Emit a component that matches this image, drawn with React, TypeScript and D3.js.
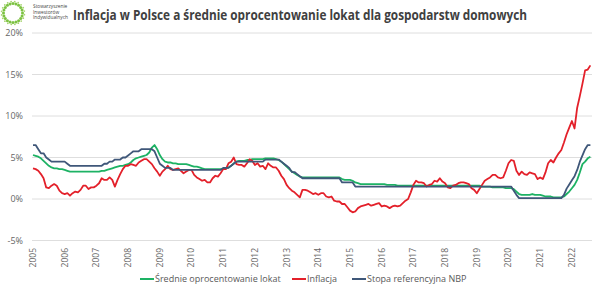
import React from 'react';
import * as d3 from 'd3';

// monthly values, Jan 2005 .. Aug 2022
const deposits: number[] = [
  5.3, 5.2, 5.1, 4.9, 4.6, 4.3, 4.0, 3.8, 3.7, 3.7, 3.6, 3.6,
  3.5, 3.4, 3.3, 3.3, 3.3, 3.3, 3.3, 3.3, 3.3, 3.3, 3.3, 3.3,
  3.3, 3.3, 3.4, 3.4, 3.5, 3.6, 3.7, 3.8, 3.9, 4.0, 4.0, 4.1,
  4.2, 4.4, 4.7, 4.9, 5.0, 5.1, 5.2, 5.3, 5.6, 6.2, 6.5, 6.0,
  5.3, 4.8, 4.5, 4.4, 4.4, 4.3, 4.3, 4.2, 4.2, 4.2, 4.2, 4.1,
  4.0, 3.9, 3.9, 3.8, 3.7, 3.6, 3.6, 3.6, 3.6, 3.6, 3.6, 3.6,
  3.6, 3.7, 3.8, 4.0, 4.3, 4.5, 4.6, 4.6, 4.6, 4.7, 4.7, 4.8,
  4.8, 4.8, 4.8, 4.8, 4.9, 4.9, 4.9, 4.9, 4.8, 4.7, 4.5, 4.2,
  3.9, 3.6, 3.3, 3.1, 2.9, 2.7, 2.6, 2.6, 2.6, 2.6, 2.6, 2.6,
  2.6, 2.6, 2.6, 2.6, 2.6, 2.6, 2.6, 2.6, 2.6, 2.4, 2.3, 2.3,
  2.3, 2.2, 2.0, 1.9, 1.8, 1.8, 1.8, 1.8, 1.8, 1.8, 1.8, 1.8,
  1.8, 1.8, 1.7, 1.7, 1.7, 1.7, 1.6, 1.6, 1.6, 1.6, 1.6, 1.6,
  1.6, 1.6, 1.6, 1.6, 1.6, 1.6, 1.6, 1.6, 1.6, 1.6, 1.6, 1.6,
  1.6, 1.6, 1.6, 1.6, 1.6, 1.6, 1.6, 1.6, 1.6, 1.6, 1.6, 1.6,
  1.6, 1.6, 1.5, 1.5, 1.5, 1.5, 1.4, 1.4, 1.4, 1.4, 1.4, 1.3,
  1.3, 1.3, 1.2, 0.9, 0.6, 0.5, 0.5, 0.5, 0.5, 0.6, 0.5, 0.5,
  0.5, 0.4, 0.3, 0.3, 0.3, 0.2, 0.2, 0.2, 0.2, 0.3, 0.6, 0.9,
  1.3, 1.7, 2.3, 3.2, 4.2, 4.5, 4.9, 5.1,
];

const inflation: number[] = [
  3.7, 3.6, 3.4, 3.0, 2.5, 1.4, 1.3, 1.6, 1.8, 1.6, 1.0, 0.7,
  0.6, 0.7, 0.4, 0.7, 0.9, 0.8, 1.1, 1.6, 1.6, 1.2, 1.4, 1.4,
  1.6, 1.9, 2.5, 2.3, 2.3, 2.6, 2.3, 1.5, 2.3, 3.0, 3.6, 4.0,
  4.0, 4.2, 4.1, 4.0, 4.4, 4.6, 4.8, 4.8, 4.5, 4.2, 3.7, 3.3,
  2.8, 3.3, 3.6, 4.0, 3.6, 3.5, 3.6, 3.7, 3.4, 3.1, 3.3, 3.5,
  3.5, 2.9, 2.6, 2.4, 2.2, 2.3, 2.0, 2.0, 2.5, 2.8, 2.7, 3.1,
  3.6, 3.6, 4.3, 4.5, 5.0, 4.2, 4.1, 4.1, 3.9, 4.3, 4.8, 4.6,
  4.1, 4.3, 3.9, 4.0, 3.6, 4.3, 4.0, 3.8, 3.8, 3.4, 2.8, 2.4,
  1.7, 1.3, 1.0, 0.8, 0.5, 0.2, 1.1, 1.1, 1.0, 0.8, 0.6, 0.7,
  0.5, 0.7, 0.7, 0.3, 0.2, 0.3, -0.2, -0.3, -0.3, -0.6, -0.6, -1.0,
  -1.4, -1.6, -1.5, -1.1, -0.9, -0.8, -0.7, -0.6, -0.8, -0.7, -0.6, -0.5,
  -0.9, -0.8, -0.9, -1.1, -0.9, -0.8, -0.9, -0.8, -0.5, -0.2, 0.0, 0.8,
  1.7, 2.2, 2.0, 2.0, 1.9, 1.5, 1.7, 1.8, 2.2, 2.1, 2.5, 2.1,
  1.9, 1.4, 1.3, 1.6, 1.7, 1.9, 2.0, 2.0, 1.9, 1.8, 1.3, 1.1,
  0.7, 1.2, 1.7, 2.2, 2.4, 2.6, 2.9, 2.9, 2.6, 2.5, 2.6, 3.4,
  4.3, 4.7, 4.6, 3.4, 2.9, 3.3, 3.0, 2.9, 3.2, 3.1, 3.0, 2.4,
  2.6, 2.4, 3.2, 4.3, 4.7, 4.4, 5.0, 5.5, 5.9, 6.8, 7.8, 8.6,
  9.4, 8.5, 11.0, 12.4, 13.9, 15.5, 15.6, 16.1,
];

const nbpRate: number[] = [
  6.5, 6.5, 6.0, 5.5, 5.5, 5.0, 4.75, 4.5, 4.5, 4.5, 4.5, 4.5,
  4.5, 4.25, 4.0, 4.0, 4.0, 4.0, 4.0, 4.0, 4.0, 4.0, 4.0, 4.0,
  4.0, 4.0, 4.0, 4.25, 4.25, 4.5, 4.5, 4.75, 4.75, 4.75, 5.0, 5.0,
  5.25, 5.5, 5.75, 5.75, 5.75, 6.0, 6.0, 6.0, 6.0, 6.0, 5.75, 5.0,
  4.25, 4.0, 3.75, 3.75, 3.75, 3.5, 3.5, 3.5, 3.5, 3.5, 3.5, 3.5,
  3.5, 3.5, 3.5, 3.5, 3.5, 3.5, 3.5, 3.5, 3.5, 3.5, 3.5, 3.5,
  3.75, 3.75, 3.75, 4.0, 4.25, 4.5, 4.5, 4.5, 4.5, 4.5, 4.5, 4.5,
  4.5, 4.5, 4.5, 4.5, 4.75, 4.75, 4.75, 4.75, 4.75, 4.75, 4.5, 4.25,
  4.0, 3.75, 3.25, 3.25, 3.0, 2.75, 2.5, 2.5, 2.5, 2.5, 2.5, 2.5,
  2.5, 2.5, 2.5, 2.5, 2.5, 2.5, 2.5, 2.5, 2.5, 2.0, 2.0, 2.0,
  2.0, 2.0, 1.5, 1.5, 1.5, 1.5, 1.5, 1.5, 1.5, 1.5, 1.5, 1.5,
  1.5, 1.5, 1.5, 1.5, 1.5, 1.5, 1.5, 1.5, 1.5, 1.5, 1.5, 1.5,
  1.5, 1.5, 1.5, 1.5, 1.5, 1.5, 1.5, 1.5, 1.5, 1.5, 1.5, 1.5,
  1.5, 1.5, 1.5, 1.5, 1.5, 1.5, 1.5, 1.5, 1.5, 1.5, 1.5, 1.5,
  1.5, 1.5, 1.5, 1.5, 1.5, 1.5, 1.5, 1.5, 1.5, 1.5, 1.5, 1.5,
  1.5, 1.5, 1.0, 0.5, 0.1, 0.1, 0.1, 0.1, 0.1, 0.1, 0.1, 0.1,
  0.1, 0.1, 0.1, 0.1, 0.1, 0.1, 0.1, 0.1, 0.1, 0.5, 1.25, 1.75,
  2.25, 2.75, 3.5, 4.5, 5.25, 6.0, 6.5, 6.5,
];

const years = ['2005', '2006', '2007', '2008', '2009', '2010', '2011', '2012', '2013',
  '2014', '2015', '2016', '2017', '2018', '2019', '2020', '2021', '2022'];
const yTicks = [-5, 0, 5, 10, 15, 20];

const series = [
  { name: 'Średnie oprocentowanie lokat', values: deposits, color: '#1db264' },
  { name: 'Inflacja', values: inflation, color: '#e3202a' },
  { name: 'Stopa referencyjna NBP', values: nbpRate, color: '#3f5779' },
];

const W = 600;
const H = 292;

const App: React.FC = () => {
  const x = d3.scaleLinear().domain([2005, 2023]).range([33, 603.6]);
  const y = d3.scaleLinear().domain([-5, 20]).range([240.5, 33]);
  const gridRight = 592;

  const line = d3.line<number>()
    .x((_, i) => x(2005 + i / 12))
    .y(d => y(d));

  // logo ring dots
  const dots = d3.range(0, 360, 18);

  const legendItems = [
    { ...series[0], lx: 140 },
    { ...series[1], lx: 292 },
    { ...series[2], lx: 352 },
  ];

  return (
    <svg width={W} height={H} style={{ position: 'absolute', left: 0, top: 0, background: '#fff' }}
      fontFamily="'Open Sans', sans-serif">
      {/* logo */}
      <g>
        {dots.map(a => {
          const r = (a * Math.PI) / 180;
          return (
            <g key={a}>
              <circle cx={13 + 9.5 * Math.cos(r)} cy={13 + 9.5 * Math.sin(r)} r={1.5} fill="#7cc242" />
              <circle cx={13 + 11.5 * Math.cos(r + 0.15)} cy={13 + 11.5 * Math.sin(r + 0.15)} r={0.9} fill="#a6d46e" />
            </g>
          );
        })}
        <text x={33} y={8} fontSize={4.8} fill="#444">Stowarzyszenie</text>
        <text x={33} y={13.5} fontSize={4.8} fill="#444">Inwestorów</text>
        <text x={33} y={19} fontSize={4.8} fill="#444">Indywidualnych</text>
      </g>

      <text x={73} y={20} fontSize={13.5} fontWeight="bold" fill="#404040"
        textLength={454} lengthAdjust="spacingAndGlyphs">
        Inflacja w Polsce a średnie oprocentowanie lokat dla gospodarstw domowych
      </text>

      {/* grid + y labels */}
      {yTicks.map(t => (
        <g key={t}>
          <line x1={32} x2={gridRight} y1={y(t)} y2={y(t)} stroke="#dedede" strokeWidth={1} />
          <text x={23} y={y(t)} dy="0.35em" textAnchor="end" fontSize={9} fill="#666">{t}%</text>
        </g>
      ))}

      {/* year labels */}
      {years.map(yr => (
        <text key={yr} transform={`translate(${x(+yr)},248) rotate(-90)`} dy="0.35em"
          textAnchor="end" fontSize={8.5} fill="#666">{yr}</text>
      ))}

      {/* lines */}
      {series.map(s => (
        <path key={s.name} d={line(s.values) || ''} fill="none" stroke={s.color}
          strokeWidth={1.8} strokeLinejoin="round" />
      ))}

      {/* legend */}
      {legendItems.map(s => (
        <g key={s.name}>
          <line x1={s.lx} x2={s.lx + 14} y1={279} y2={279} stroke={s.color} strokeWidth={2} />
          <text x={s.lx + 15} y={279} dy="0.35em" fontSize={9} fill="#595959">{s.name}</text>
        </g>
      ))}
    </svg>
  );
};

export default App;
